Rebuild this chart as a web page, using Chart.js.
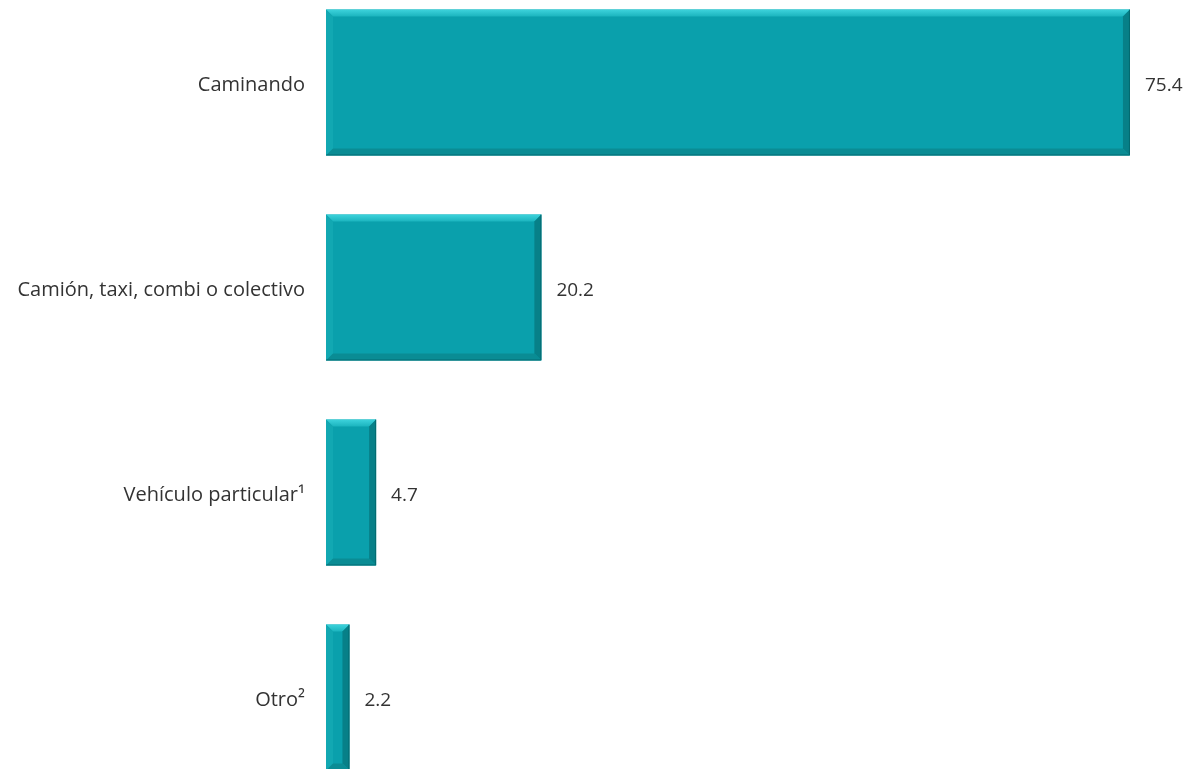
<!DOCTYPE html>
<html>
<head>
<meta charset="utf-8">
<script src="https://cdn.jsdelivr.net/npm/chart.js@4.4.0/dist/chart.umd.min.js"></script>
<style>
html,body{margin:0;padding:0;background:#fff;overflow:hidden;width:1191px;height:769px;}
#wrap{position:absolute;left:0;top:-20px;width:1191px;height:820px;}
</style>
</head>
<body>
<div id="wrap"><canvas id="c" width="1191" height="820"></canvas></div>
<script>
const categories = ["Caminando", "Camión, taxi, combi o colectivo", "Vehículo particular\u00B9", "Otro\u00B2"];
const values = [75.4, 20.2, 4.7, 2.2];
const valueLabels = ["75.4", "20.2", "4.7", "2.2"];

const FONT = '"Open Sans", "Segoe UI", sans-serif';

const bevelPlugin = {
  id: 'bevel',
  afterDatasetsDraw(chart) {
    const ctx = chart.ctx;
    const meta = chart.getDatasetMeta(0);
    meta.data.forEach((bar, i) => {
      const p = bar.getProps(['x','y','base','height'], true);
      const x0 = Math.min(p.base, p.x), x1 = Math.max(p.base, p.x);
      const y0 = p.y - p.height/2, y1 = p.y + p.height/2;
      const b = Math.min(7, (x1-x0)/3, (y1-y0)/3);
      ctx.save();
      // top
      const gt = ctx.createLinearGradient(0, y0, 0, y0 + b);
      gt.addColorStop(0, '#3dd3dc');
      gt.addColorStop(1, '#1bb4be');
      ctx.fillStyle = gt;
      ctx.beginPath();
      ctx.moveTo(x0,y0);ctx.lineTo(x1,y0);ctx.lineTo(x1-b,y0+b);ctx.lineTo(x0+b,y0+b);ctx.closePath();ctx.fill();
      // left
      ctx.fillStyle = '#12a8b2';
      ctx.beginPath();
      ctx.moveTo(x0,y0);ctx.lineTo(x0+b,y0+b);ctx.lineTo(x0+b,y1-b);ctx.lineTo(x0,y1);ctx.closePath();ctx.fill();
      // right
      ctx.fillStyle = '#078088';
      ctx.beginPath();
      ctx.moveTo(x1,y0);ctx.lineTo(x1,y1);ctx.lineTo(x1-b,y1-b);ctx.lineTo(x1-b,y0+b);ctx.closePath();ctx.fill();
      // bottom
      ctx.fillStyle = '#0a8c94';
      ctx.beginPath();
      ctx.moveTo(x0,y1);ctx.lineTo(x1,y1);ctx.lineTo(x1-b,y1-b);ctx.lineTo(x0+b,y1-b);ctx.closePath();ctx.fill();
      ctx.strokeStyle = 'rgba(0,90,95,0.6)';
      ctx.lineWidth = 1;
      ctx.beginPath();
      ctx.moveTo(x1-0.5,y0);ctx.lineTo(x1-0.5,y1-0.5);ctx.lineTo(x0,y1-0.5);ctx.stroke();
      ctx.restore();
      // value label
      ctx.save();
      ctx.fillStyle = '#333333';
      ctx.font = '19px ' + FONT;
      ctx.textAlign = 'left';
      ctx.textBaseline = 'middle';
      ctx.fillText(valueLabels[i], x1 + 15, p.y + 3);
      ctx.restore();
    });
  }
};

new Chart(document.getElementById('c'), {
  type: 'bar',
  data: {
    labels: categories,
    datasets: [{
      data: values,
      backgroundColor: '#0aa0ac',
      borderWidth: 0,
      categoryPercentage: 1,
      barPercentage: 0.712
    }]
  },
  options: {
    indexAxis: 'y',
    responsive: false,
    animation: false,
    events: [],
    layout: { padding: { left: 0, right: 12, top: 0, bottom: 0 } },
    plugins: { legend: { display: false }, tooltip: { enabled: false } },
    scales: {
      x: { display: false, min: 0, max: 80 },
      y: {
        grid: { display: false, drawTicks: false },
        border: { display: false },
        ticks: { color: '#333333', font: { size: 20, family: FONT }, padding: 21, labelOffset: 3 },
        afterFit(scale) { scale.width = 326; scale.paddingTop = 0; scale.paddingBottom = 0; }
      }
    }
  },
  plugins: [bevelPlugin]
});
</script>
</body>
</html>
